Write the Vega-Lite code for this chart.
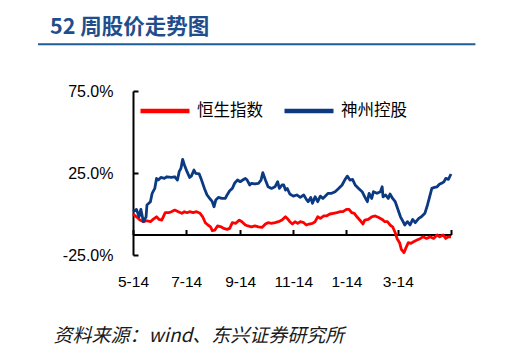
{
  "$schema": "https://vega.github.io/schema/vega-lite/v6.json",
  "width": 318,
  "height": 164,
  "autosize": {"type": "none"},
  "padding": {"left": 133, "top": 91, "right": 54, "bottom": 100},
  "background": "#ffffff",
  "title": {"text": "52 周股价走势图", "anchor": "start", "font": "Noto Sans CJK SC", "fontSize": 21.5, "fontWeight": "bold", "color": "#1F4E8C", "dx": -83, "offset": 5, "frame": "group"},
  "config": {"view": {"stroke": null}},
  "layer": [
    {
      "data": {"values": [
        {"d":"2013-05-14","s":"恒生指数","v":0.0},{"d":"2013-05-18","s":"恒生指数","v":-1.7},{"d":"2013-05-22","s":"恒生指数","v":-3.7},{"d":"2013-05-26","s":"恒生指数","v":-4.7},{"d":"2013-05-30","s":"恒生指数","v":-4.1},{"d":"2013-06-03","s":"恒生指数","v":-4.7},{"d":"2013-06-06","s":"恒生指数","v":-3.3},{"d":"2013-06-10","s":"恒生指数","v":-1.7},{"d":"2013-06-13","s":"恒生指数","v":-3.3},{"d":"2013-06-16","s":"恒生指数","v":-3.7},{"d":"2013-06-20","s":"恒生指数","v":0.8},{"d":"2013-06-24","s":"恒生指数","v":0.8},{"d":"2013-06-27","s":"恒生指数","v":1.4},{"d":"2013-07-01","s":"恒生指数","v":2.4},{"d":"2013-07-05","s":"恒生指数","v":1.4},{"d":"2013-07-09","s":"恒生指数","v":0.4},{"d":"2013-07-12","s":"恒生指数","v":1.4},{"d":"2013-07-15","s":"恒生指数","v":0.8},{"d":"2013-07-18","s":"恒生指数","v":1.4},{"d":"2013-07-22","s":"恒生指数","v":0.8},{"d":"2013-07-26","s":"恒生指数","v":1.4},{"d":"2013-07-30","s":"恒生指数","v":0.4},{"d":"2013-08-02","s":"恒生指数","v":-1.7},{"d":"2013-08-05","s":"恒生指数","v":-5.3},{"d":"2013-08-08","s":"恒生指数","v":-6.7},{"d":"2013-08-11","s":"恒生指数","v":-7.8},{"d":"2013-08-13","s":"恒生指数","v":-10.2},{"d":"2013-08-16","s":"恒生指数","v":-9.8},{"d":"2013-08-19","s":"恒生指数","v":-7.3},{"d":"2013-08-23","s":"恒生指数","v":-7.8},{"d":"2013-08-26","s":"恒生指数","v":-8.8},{"d":"2013-08-30","s":"恒生指数","v":-9.4},{"d":"2013-09-02","s":"恒生指数","v":-8.8},{"d":"2013-09-05","s":"恒生指数","v":-5.3},{"d":"2013-09-09","s":"恒生指数","v":-5.7},{"d":"2013-09-13","s":"恒生指数","v":-3.7},{"d":"2013-09-16","s":"恒生指数","v":-4.7},{"d":"2013-09-20","s":"恒生指数","v":-6.7},{"d":"2013-09-23","s":"恒生指数","v":-7.3},{"d":"2013-09-27","s":"恒生指数","v":-7.8},{"d":"2013-10-01","s":"恒生指数","v":-7.3},{"d":"2013-10-05","s":"恒生指数","v":-7.8},{"d":"2013-10-09","s":"恒生指数","v":-8.2},{"d":"2013-10-13","s":"恒生指数","v":-6.1},{"d":"2013-10-16","s":"恒生指数","v":-5.3},{"d":"2013-10-20","s":"恒生指数","v":-5.7},{"d":"2013-10-24","s":"恒生指数","v":-5.3},{"d":"2013-10-28","s":"恒生指数","v":-4.7},{"d":"2013-11-01","s":"恒生指数","v":-3.7},{"d":"2013-11-05","s":"恒生指数","v":-1.7},{"d":"2013-11-07","s":"恒生指数","v":-2.7},{"d":"2013-11-10","s":"恒生指数","v":-4.7},{"d":"2013-11-13","s":"恒生指数","v":-6.1},{"d":"2013-11-16","s":"恒生指数","v":-4.7},{"d":"2013-11-19","s":"恒生指数","v":-5.7},{"d":"2013-11-22","s":"恒生指数","v":-4.7},{"d":"2013-11-26","s":"恒生指数","v":-5.3},{"d":"2013-11-29","s":"恒生指数","v":-6.7},{"d":"2013-12-02","s":"恒生指数","v":-6.1},{"d":"2013-12-06","s":"恒生指数","v":-5.7},{"d":"2013-12-09","s":"恒生指数","v":-4.7},{"d":"2013-12-12","s":"恒生指数","v":-1.7},{"d":"2013-12-15","s":"恒生指数","v":-2.7},{"d":"2013-12-19","s":"恒生指数","v":-1.2},{"d":"2013-12-22","s":"恒生指数","v":-1.2},{"d":"2013-12-26","s":"恒生指数","v":0.0},{"d":"2013-12-30","s":"恒生指数","v":0.4},{"d":"2014-01-03","s":"恒生指数","v":0.8},{"d":"2014-01-07","s":"恒生指数","v":1.4},{"d":"2014-01-10","s":"恒生指数","v":1.4},{"d":"2014-01-14","s":"恒生指数","v":2.8},{"d":"2014-01-17","s":"恒生指数","v":2.8},{"d":"2014-01-20","s":"恒生指数","v":0.8},{"d":"2014-01-23","s":"恒生指数","v":0.4},{"d":"2014-01-26","s":"恒生指数","v":-1.7},{"d":"2014-01-30","s":"恒生指数","v":-4.1},{"d":"2014-02-02","s":"恒生指数","v":-6.1},{"d":"2014-02-04","s":"恒生指数","v":-3.7},{"d":"2014-02-08","s":"恒生指数","v":-3.3},{"d":"2014-02-12","s":"恒生指数","v":-1.7},{"d":"2014-02-16","s":"恒生指数","v":-1.2},{"d":"2014-02-20","s":"恒生指数","v":-2.1},{"d":"2014-02-24","s":"恒生指数","v":-3.3},{"d":"2014-02-27","s":"恒生指数","v":-4.7},{"d":"2014-03-02","s":"恒生指数","v":-4.7},{"d":"2014-03-05","s":"恒生指数","v":-6.7},{"d":"2014-03-08","s":"恒生指数","v":-7.8},{"d":"2014-03-11","s":"恒生指数","v":-11.4},{"d":"2014-03-13","s":"恒生指数","v":-14.9},{"d":"2014-03-16","s":"恒生指数","v":-17.5},{"d":"2014-03-18","s":"恒生指数","v":-21.6},{"d":"2014-03-21","s":"恒生指数","v":-23.6},{"d":"2014-03-23","s":"恒生指数","v":-21.0},{"d":"2014-03-26","s":"恒生指数","v":-17.5},{"d":"2014-03-29","s":"恒生指数","v":-17.9},{"d":"2014-04-01","s":"恒生指数","v":-16.9},{"d":"2014-04-05","s":"恒生指数","v":-15.9},{"d":"2014-04-09","s":"恒生指数","v":-14.9},{"d":"2014-04-12","s":"恒生指数","v":-13.9},{"d":"2014-04-16","s":"恒生指数","v":-14.9},{"d":"2014-04-20","s":"恒生指数","v":-13.9},{"d":"2014-04-24","s":"恒生指数","v":-14.9},{"d":"2014-04-28","s":"恒生指数","v":-12.8},{"d":"2014-05-01","s":"恒生指数","v":-13.9},{"d":"2014-05-05","s":"恒生指数","v":-12.8},{"d":"2014-05-08","s":"恒生指数","v":-14.9},{"d":"2014-05-11","s":"恒生指数","v":-13.9},{"d":"2014-05-14","s":"恒生指数","v":-13.9},
        {"d":"2013-05-14","s":"神州控股","v":1.4},{"d":"2013-05-18","s":"神州控股","v":2.8},{"d":"2013-05-21","s":"神州控股","v":-1.7},{"d":"2013-05-23","s":"神州控股","v":2.8},{"d":"2013-05-26","s":"神州控股","v":-4.7},{"d":"2013-05-29","s":"神州控股","v":-1.7},{"d":"2013-05-30","s":"神州控股","v":5.5},{"d":"2013-06-03","s":"神州控股","v":7.5},{"d":"2013-06-05","s":"神州控股","v":12.6},{"d":"2013-06-08","s":"神州控股","v":15.6},{"d":"2013-06-10","s":"神州控股","v":21.7},{"d":"2013-06-12","s":"神州控股","v":20.7},{"d":"2013-06-15","s":"神州控股","v":22.3},{"d":"2013-06-19","s":"神州控股","v":21.7},{"d":"2013-06-22","s":"神州控股","v":22.7},{"d":"2013-06-27","s":"神州控股","v":22.3},{"d":"2013-07-01","s":"神州控股","v":22.7},{"d":"2013-07-04","s":"神州控股","v":20.7},{"d":"2013-07-06","s":"神州控股","v":25.8},{"d":"2013-07-08","s":"神州控股","v":27.8},{"d":"2013-07-10","s":"神州控股","v":33.3},{"d":"2013-07-12","s":"神州控股","v":29.9},{"d":"2013-07-15","s":"神州控股","v":25.8},{"d":"2013-07-18","s":"神州控股","v":22.3},{"d":"2013-07-20","s":"神州控股","v":23.1},{"d":"2013-07-23","s":"神州控股","v":26.8},{"d":"2013-07-25","s":"神州控股","v":24.8},{"d":"2013-07-29","s":"神州控股","v":24.4},{"d":"2013-07-31","s":"神州控股","v":21.7},{"d":"2013-08-04","s":"神州控股","v":15.6},{"d":"2013-08-07","s":"神州控股","v":11.6},{"d":"2013-08-10","s":"神州控股","v":9.5},{"d":"2013-08-13","s":"神州控股","v":7.5},{"d":"2013-08-15","s":"神州控股","v":4.4},{"d":"2013-08-17","s":"神州控股","v":8.5},{"d":"2013-08-20","s":"神州控股","v":10.1},{"d":"2013-08-24","s":"神州控股","v":9.5},{"d":"2013-08-28","s":"神州控股","v":9.5},{"d":"2013-08-30","s":"神州控股","v":11.6},{"d":"2013-09-02","s":"神州控股","v":14.2},{"d":"2013-09-05","s":"神州控股","v":15.6},{"d":"2013-09-08","s":"神州控股","v":19.1},{"d":"2013-09-11","s":"神州控股","v":20.7},{"d":"2013-09-14","s":"神州控股","v":19.7},{"d":"2013-09-17","s":"神州控股","v":20.7},{"d":"2013-09-20","s":"神州控股","v":21.7},{"d":"2013-09-22","s":"神州控股","v":20.7},{"d":"2013-09-25","s":"神州控股","v":17.7},{"d":"2013-09-27","s":"神州控股","v":18.7},{"d":"2013-10-01","s":"神州控股","v":18.3},{"d":"2013-10-05","s":"神州控股","v":18.7},{"d":"2013-10-08","s":"神州控股","v":20.7},{"d":"2013-10-10","s":"神州控股","v":25.2},{"d":"2013-10-13","s":"神州控股","v":20.7},{"d":"2013-10-16","s":"神州控股","v":16.6},{"d":"2013-10-20","s":"神州控股","v":15.6},{"d":"2013-10-24","s":"神州控股","v":16.6},{"d":"2013-10-27","s":"神州控股","v":19.7},{"d":"2013-10-29","s":"神州控股","v":15.6},{"d":"2013-11-01","s":"神州控股","v":17.7},{"d":"2013-11-03","s":"神州控股","v":17.7},{"d":"2013-11-05","s":"神州控股","v":14.6},{"d":"2013-11-07","s":"神州控股","v":15.6},{"d":"2013-11-10","s":"神州控股","v":12.2},{"d":"2013-11-14","s":"神州控股","v":10.9},{"d":"2013-11-18","s":"神州控股","v":11.6},{"d":"2013-11-22","s":"神州控股","v":10.1},{"d":"2013-11-26","s":"神州控股","v":11.6},{"d":"2013-11-29","s":"神州控股","v":8.9},{"d":"2013-12-01","s":"神州控股","v":7.5},{"d":"2013-12-04","s":"神州控股","v":10.1},{"d":"2013-12-06","s":"神州控股","v":6.5},{"d":"2013-12-09","s":"神州控股","v":10.5},{"d":"2013-12-12","s":"神州控股","v":7.5},{"d":"2013-12-15","s":"神州控股","v":10.9},{"d":"2013-12-18","s":"神州控股","v":9.5},{"d":"2013-12-20","s":"神州控股","v":10.5},{"d":"2013-12-24","s":"神州控股","v":12.6},{"d":"2013-12-28","s":"神州控股","v":12.6},{"d":"2014-01-01","s":"神州控股","v":13.6},{"d":"2014-01-05","s":"神州控股","v":15.6},{"d":"2014-01-09","s":"神州控股","v":17.7},{"d":"2014-01-12","s":"神州控股","v":20.7},{"d":"2014-01-15","s":"神州控股","v":23.1},{"d":"2014-01-18","s":"神州控股","v":20.7},{"d":"2014-01-21","s":"神州控股","v":21.1},{"d":"2014-01-24","s":"神州控股","v":17.7},{"d":"2014-01-28","s":"神州控股","v":15.6},{"d":"2014-02-01","s":"神州控股","v":13.6},{"d":"2014-02-04","s":"神州控股","v":10.5},{"d":"2014-02-07","s":"神州控股","v":7.5},{"d":"2014-02-09","s":"神州控股","v":12.6},{"d":"2014-02-12","s":"神州控股","v":9.5},{"d":"2014-02-14","s":"神州控股","v":13.6},{"d":"2014-02-18","s":"神州控股","v":12.6},{"d":"2014-02-22","s":"神州控股","v":13.6},{"d":"2014-02-24","s":"神州控股","v":16.6},{"d":"2014-02-25","s":"神州控股","v":10.5},{"d":"2014-02-28","s":"神州控股","v":11.6},{"d":"2014-03-03","s":"神州控股","v":9.5},{"d":"2014-03-05","s":"神州控股","v":12.2},{"d":"2014-03-08","s":"神州控股","v":9.5},{"d":"2014-03-11","s":"神州控股","v":7.5},{"d":"2014-03-13","s":"神州控股","v":4.4},{"d":"2014-03-17","s":"神州控股","v":-1.7},{"d":"2014-03-20","s":"神州控股","v":-4.7},{"d":"2014-03-22","s":"神州控股","v":-6.7},{"d":"2014-03-25","s":"神州控股","v":-4.7},{"d":"2014-03-28","s":"神州控股","v":-6.7},{"d":"2014-03-31","s":"神州控股","v":-3.3},{"d":"2014-04-03","s":"神州控股","v":-5.3},{"d":"2014-04-07","s":"神州控股","v":-2.7},{"d":"2014-04-10","s":"神州控股","v":-1.7},{"d":"2014-04-14","s":"神州控股","v":0.4},{"d":"2014-04-17","s":"神州控股","v":5.5},{"d":"2014-04-19","s":"神州控股","v":9.5},{"d":"2014-04-22","s":"神州控股","v":15.6},{"d":"2014-04-25","s":"神州控股","v":16.2},{"d":"2014-04-28","s":"神州控股","v":16.6},{"d":"2014-05-01","s":"神州控股","v":18.3},{"d":"2014-05-03","s":"神州控股","v":18.7},{"d":"2014-05-06","s":"神州控股","v":19.7},{"d":"2014-05-08","s":"神州控股","v":21.7},{"d":"2014-05-11","s":"神州控股","v":21.1},{"d":"2014-05-14","s":"神州控股","v":24.4}
      ]},
      "mark": {"type": "line", "strokeWidth": 2.8, "strokeJoin": "round"},
      "encoding": {
        "x": {
          "field": "d", "type": "temporal",
          "scale": {"type": "utc", "domain": [{"year": 2013, "month": 5, "date": 14, "utc": true}, {"year": 2014, "month": 5, "date": 14, "utc": true}]},
          "axis": {
            "values": [{"year": 2013, "month": 5, "date": 14, "utc": true}, {"year": 2013, "month": 7, "date": 14, "utc": true}, {"year": 2013, "month": 9, "date": 14, "utc": true}, {"year": 2013, "month": 11, "date": 14, "utc": true}, {"year": 2014, "month": 1, "date": 14, "utc": true}, {"year": 2014, "month": 3, "date": 14, "utc": true}, {"year": 2014, "month": 5, "date": 14, "utc": true}],
            "labelExpr": "datum.index == 1 ? '' : utcFormat(datum.value, '%-m-%d')",
            "offset": -20.5,
            "grid": false,
            "domainColor": "#000000", "domainWidth": 2,
            "tickColor": "#000000", "tickWidth": 2, "tickSize": -5,
            "labelFont": "Liberation Sans", "labelFontSize": 15.5, "labelColor": "#000000",
            "labelPadding": 45, "labelFlush": false, "labelOverlap": false,
            "title": "资料来源：wind、东兴证券研究所",
            "titleFont": "Noto Sans CJK SC", "titleFontStyle": "italic", "titleFontSize": 19, "titleFontWeight": "normal", "titleColor": "#1a1a1a",
            "titleAnchor": "start", "titleAlign": "left", "titleBaseline": "middle", "titleX": -80, "titleY": 101
          }
        },
        "y": {
          "field": "v", "type": "quantitative",
          "scale": {"domain": [-25, 75], "nice": false, "zero": false},
          "axis": {
            "values": [75, 25, -25],
            "labelExpr": "(datum.value < 0 ? '-' : '') + format(abs(datum.value), '.1f') + '%'",
            "title": null, "grid": false,
            "domainColor": "#000000", "domainWidth": 2,
            "tickColor": "#000000", "tickWidth": 2, "tickSize": -5,
            "labelFont": "Liberation Sans", "labelFontSize": 16, "labelColor": "#000000",
            "labelPadding": 25
          }
        },
        "color": {
          "field": "s", "type": "nominal",
          "scale": {"domain": ["恒生指数", "神州控股"], "range": ["#FF0000", "#0B3A82"]},
          "legend": {
            "orient": "none", "legendX": 5, "legendY": -7, "direction": "horizontal",
            "title": null, "padding": 0,
            "symbolType": "stroke", "symbolSize": 2400, "symbolStrokeWidth": 4.5,
            "labelFont": "Noto Sans CJK SC", "labelFontSize": 16.5, "labelColor": "#000000",
            "labelOffset": 5, "columnPadding": 12
          }
        }
      }
    },
    {
      "data": {"values": [{}]},
      "mark": {"type": "rule", "color": "#1F5C9A", "strokeWidth": 2},
      "encoding": {
        "x": {"datum": {"year": 2013, "month": 1, "date": 25, "utc": true}, "type": "temporal"},
        "x2": {"datum": {"year": 2014, "month": 6, "date": 11, "utc": true}},
        "y": {"datum": 103.5, "type": "quantitative"}
      }
    }
  ]
}
